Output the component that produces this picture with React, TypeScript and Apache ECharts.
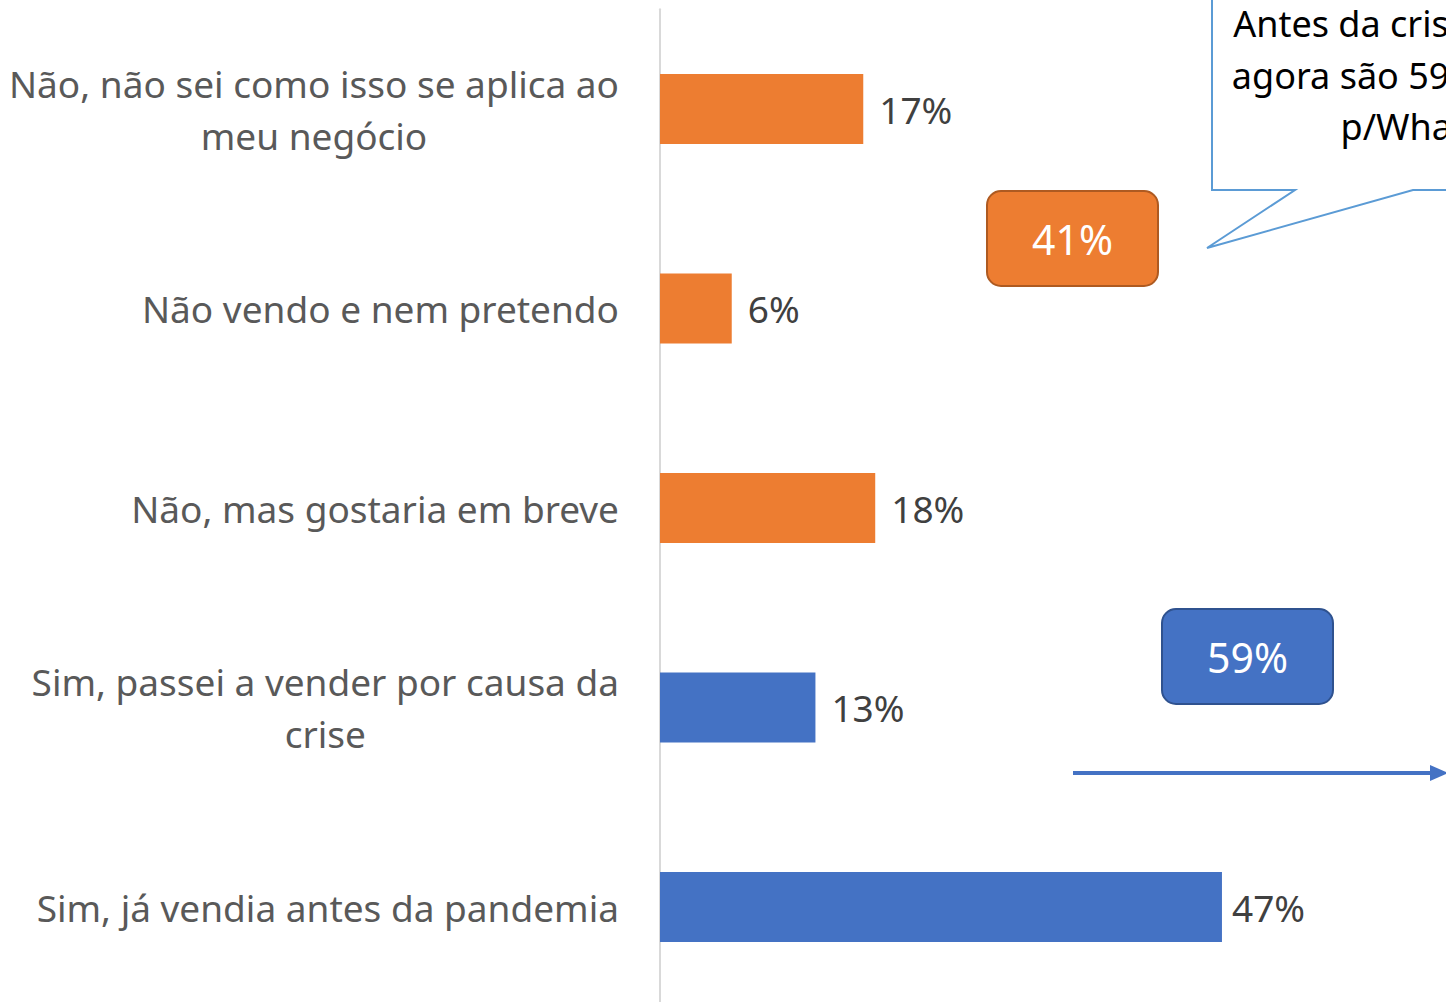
import React, { useEffect, useRef } from "react";
import * as echarts from "echarts";

const categories = [
  "Não, não sei como isso se aplica ao\nmeu negócio",
  "Não vendo e nem pretendo",
  "Não, mas gostaria em breve",
  "Sim, passei a vender por causa da\ncrise",
  "Sim, já vendia antes da pandemia",
];
const values = [17, 6, 18, 13, 47];
const barColors = ["#ED7D31", "#ED7D31", "#ED7D31", "#4472C4", "#4472C4"];
const orangeTotal = "41%";
const blueTotal = "59%";
const calloutText = "Antes da crise eram 47%,\nagora são 59% vendendo\np/WhatsApp";

const FONT = "'Noto Sans', sans-serif";

export default function App() {
  const ref = useRef<HTMLDivElement>(null);
  useEffect(() => {
    document.body.style.margin = "0";
    document.body.style.overflow = "hidden";
    if (!ref.current) return;
    const chart = echarts.init(ref.current, null, { renderer: "svg" });
    const option: any = {
      animation: false,
      grid: { left: 660, top: 9.25, width: 717.4, height: 997.5, containLabel: false },
      xAxis: {
        type: "value",
        min: 0,
        max: 60,
        show: false,
      },
      yAxis: {
        type: "category",
        inverse: true,
        data: categories,
        axisLine: { show: true, lineStyle: { color: "#D9D9D9", width: 2 } },
        axisTick: { show: false },
        axisLabel: {
          margin: 41,
          fontFamily: FONT,
          fontSize: 37,
          color: "#595959",
          lineHeight: 52,
          align: "right",
          formatter: (v: string) =>
            v.indexOf("\n") >= 0
              ? v
                  .split("\n")
                  .map((l) => "{c|" + l + "}")
                  .join("\n")
              : v,
          rich: {
            c: {
              align: "center",
              fontFamily: FONT,
              fontSize: 37,
              color: "#595959",
              lineHeight: 52,
            },
          },
        },
      },
      series: [
        {
          type: "bar",
          barWidth: 70,
          data: values.map((v, i) => ({
            value: v,
            itemStyle: { color: barColors[i] },
            label: i === 4 ? { distance: 10 } : undefined,
          })),
          label: {
            show: true,
            position: "right",
            distance: 16,
            formatter: "{c}%",
            fontFamily: FONT,
            fontSize: 37,
            color: "#404040",
          },
        },
      ],
      graphic: [
        {
          type: "rect",
          shape: { x: 987, y: 191, width: 171, height: 95, r: 14 },
          style: { fill: "#ED7D31", stroke: "#AE5A21", lineWidth: 2 },
        },
        {
          type: "text",
          x: 1072.5,
          y: 238.5,
          style: {
            text: orangeTotal,
            fontFamily: FONT,
            fontSize: 41,
            fill: "#FFFFFF",
            textAlign: "center",
            textVerticalAlign: "middle",
          },
        },
        {
          type: "rect",
          shape: { x: 1162, y: 609, width: 171, height: 95, r: 14 },
          style: { fill: "#4472C4", stroke: "#2F528F", lineWidth: 2 },
        },
        {
          type: "text",
          x: 1247.5,
          y: 656.5,
          style: {
            text: blueTotal,
            fontFamily: FONT,
            fontSize: 41,
            fill: "#FFFFFF",
            textAlign: "center",
            textVerticalAlign: "middle",
          },
        },
        {
          type: "line",
          shape: { x1: 1073, y1: 773, x2: 1432, y2: 773 },
          style: { stroke: "#4472C4", lineWidth: 4 },
        },
        {
          type: "polygon",
          shape: { points: [[1430, 765], [1448, 773], [1430, 781]] },
          style: { fill: "#4472C4" },
        },
        {
          type: "polygon",
          z: 10,
          shape: {
            points: [
              [1212, -10],
              [1212, 190],
              [1295, 190],
              [1207, 248],
              [1413, 190],
              [1470, 190],
              [1470, -10],
            ],
          },
          style: { fill: "#FFFFFF", stroke: "#5B9BD5", lineWidth: 2 },
        },
        {
          type: "text",
          z: 11,
          x: 1445,
          y: -2,
          style: {
            text: calloutText,
            fontFamily: FONT,
            fontSize: 36,
            lineHeight: 51.5,
            fill: "#000000",
            textAlign: "center",
            textVerticalAlign: "top",
          },
        },
      ],
    };
    chart.setOption(option);
    return () => chart.dispose();
  }, []);
  return <div ref={ref} style={{ width: 1446, height: 1012 }} />;
}
